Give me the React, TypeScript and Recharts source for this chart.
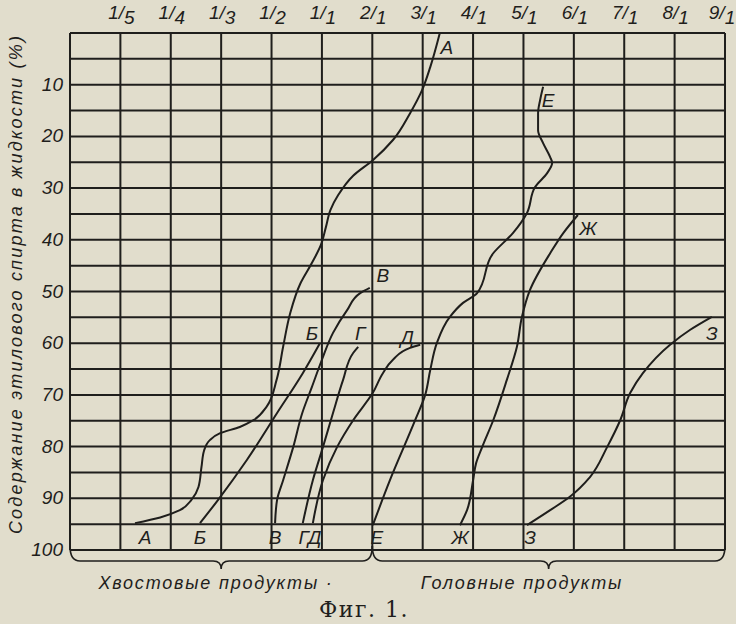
import React from "react";
import { ComposedChart, Line, Scatter, XAxis, YAxis, CartesianGrid } from "recharts";

// ratio categories (top axis); index 0 is the left border
const ratioLabels = ["", "1/5", "1/4", "1/3", "1/2", "1/1", "2/1", "3/1", "4/1", "5/1", "6/1", "7/1", "8/1", "9/1"];
const xTicks = [0, 1, 2, 3, 4, 5, 6, 7, 8, 9, 10, 11, 12, 13];
const yTicks = [0, 5, 10, 15, 20, 25, 30, 35, 40, 45, 50, 55, 60, 65, 70, 75, 80, 85, 90, 95, 100];

// curves: [ratio-index, ethyl alcohol content %]
const curveA = [[1.29,94.8],[1.79,93.7],[2.18,92.3],[2.41,90.3],[2.55,87.8],[2.61,83.9],[2.66,80.8],[2.78,78.7],[2.98,77.4],[3.37,76.2],[3.64,74.9],[3.9,72.3],[4.1,67.1],[4.23,60.7],[4.37,54.2],[4.57,48.5],[4.8,44.5],[4.98,41.0],[5.08,37.5],[5.17,34.2],[5.32,31.4],[5.62,27.6],[6.01,24.6],[6.41,20.7],[6.75,15.5],[6.99,11.0],[7.15,6.6],[7.34,0]];
const curveB = [[2.58,94.8],[2.94,90.3],[3.51,82.6],[4.11,73.5],[4.62,65.8],[4.96,60.0]];
const curveV = [[4.07,94.8],[4.11,90.3],[4.23,86.5],[4.43,80.1],[4.61,73.5],[4.8,68.5],[5.0,63.2],[5.22,58.0],[5.5,53.6],[5.76,50.3],[5.95,49.3]];
const curveG = [[4.62,94.8],[4.82,86.5],[5.02,80.1],[5.22,73.5],[5.42,67.1],[5.62,61.9],[5.72,60.7]];
const curveD = [[4.82,94.8],[5.02,86.5],[5.3,80.1],[5.62,74.9],[6.01,69.6],[6.21,65.8],[6.41,63.2],[6.75,60.9],[6.95,60.3]];
const curveE = [[6.01,95.2],[6.35,86.5],[6.85,74.9],[7.05,70.0],[7.15,65.2],[7.28,60.0],[7.54,54.9],[7.8,52.2],[8.08,50.3],[8.4,42.6],[8.79,38.7],[9.07,34.8],[9.23,29.8],[9.47,27.1],[9.57,25.1],[9.53,24.0],[9.39,21.3],[9.29,18.8],[9.29,15.5],[9.33,13.0],[9.39,10.4]];
const curveZh = [[7.74,95.2],[7.88,92.3],[8.0,86.5],[8.06,83.2],[8.18,80.1],[8.4,74.9],[8.67,67.1],[8.87,60.7],[8.97,54.9],[9.13,49.7],[9.53,42.6],[9.79,38.7],[10.08,35.2]];
const curveZ = [[9.07,95.2],[9.53,92.3],[9.92,89.7],[10.32,85.9],[10.66,80.1],[10.92,74.9],[11.12,69.6],[11.37,65.8],[11.91,60.3],[12.31,57.4],[12.74,54.9]];

// curve letters
const letterText = ["А", "Е", "Ж", "В", "Б", "Г", "Д", "З", "А", "Б", "В", "ГД", "Е", "Ж", "З"];
const letterX = [7.48, 9.49, 10.28, 6.21, 4.8, 5.76, 6.69, 12.74, 1.49, 2.58, 4.07, 4.76, 6.09, 7.74, 9.13];
const letterY = [2.7, 13.0, 37.7, 46.8, 58.0, 58.0, 58.8, 58.0, 97.5, 97.5, 97.5, 97.5, 97.5, 97.5, 97.5];

const yTitle = "Содержание  этилового  спирта  в  жидкости (%)";
const tailLabel = "Хвостовые  продукты ·";
const headLabel = "Головные  продукты";
const figLabel = "Фиг. 1.";

// ordered top-to-bottom so the curve is monotone in y
const toPts = (arr: number[][]) => arr.map(([x, y]) => ({ x, y })).sort((a, b) => a.y - b.y);
const curves = [curveA, curveB, curveV, curveG, curveD, curveE, curveZh, curveZ];
const letters = letterText.map((t, i) => ({ x: letterX[i], y: letterY[i], t }));

const INK = "#1f1e1c";
const PAPER = "#e1ddcc";
const SANS = "'Liberation Sans', Arial, sans-serif";

const W = 736, H = 624;
const PL = 70, PT = 33, PW = 655, PH = 517;

const TopTick = (props: any) => {
  const { x, payload } = props;
  const lab = ratioLabels[payload.value];
  if (!lab) return null;
  const [n, d] = lab.split("/");
  const last = payload.value === 13;
  return (
    <text x={last ? x - 3 : x + 1} y={22} textAnchor="middle" fill={INK} fontFamily={SANS} fontStyle="italic" fontSize={19}>
      <tspan dy={-3}>{n}</tspan>
      <tspan dy={0}>/</tspan>
      <tspan dy={5}>{d}</tspan>
    </text>
  );
};

const LeftTick = (props: any) => {
  const { y, payload } = props;
  const v = payload.value;
  if (v === 0 || v % 10 !== 0) return null;
  return (
    <text x={63} y={y} dy={6} textAnchor="end" fill={INK} fontFamily={SANS} fontStyle="italic" fontSize={19}>
      {v}
    </text>
  );
};

const LetterShape = (props: any) => {
  const { cx, cy, payload } = props;
  return (
    <text x={cx} y={cy} dy={7} textAnchor="middle" fill={INK} fontFamily={SANS} fontStyle="italic" fontSize={19}>
      {payload.t}
    </text>
  );
};

const brace = (a: number, b: number) => {
  const m = (a + b) / 2;
  const yb = PT + PH + 11;
  return `M${a},${PT + PH - 4} Q${a},${yb} ${a + 10},${yb} L${m - 8},${yb} Q${m},${yb} ${m},${yb + 8} Q${m},${yb} ${m + 8},${yb} L${b - 10},${yb} Q${b},${yb} ${b},${PT + PH - 4}`;
};

export default function App() {
  const xSplit = PL + (PW * 6) / 13;
  return (
    <div style={{ position: "absolute", left: 0, top: 0, width: W, height: H, background: PAPER, overflow: "hidden" }}>
      <ComposedChart width={W} height={H} margin={{ top: 8, right: W - PL - PW, bottom: H - PT - PH, left: 0 }}>
        <CartesianGrid stroke={INK} strokeWidth={2} horizontal vertical fill="none" />
        <XAxis
          type="number"
          dataKey="x"
          orientation="top"
          domain={[0, 13]}
          ticks={xTicks}
          height={25}
          axisLine={false}
          tickLine={false}
          tick={<TopTick />}
          allowDataOverflow
          interval={0}
        />
        <YAxis
          type="number"
          dataKey="y"
          domain={[0, 100]}
          reversed
          ticks={yTicks}
          width={PL}
          axisLine={false}
          tickLine={false}
          tick={<LeftTick />}
          allowDataOverflow
          interval={0}
        />
        {curves.map((c, i) => (
          <Line
            key={i}
            data={toPts(c)}
            dataKey="y"
            type="monotoneY"
            stroke={INK}
            strokeWidth={2}
            dot={false}
            activeDot={false}
            isAnimationActive={false}
          />
        ))}
        <Scatter data={letters} dataKey="y" shape={<LetterShape />} isAnimationActive={false} />
      </ComposedChart>
      <svg width={W} height={H} style={{ position: "absolute", left: 0, top: 0, pointerEvents: "none" }}>
        <path d={brace(PL, xSplit)} fill="none" stroke={INK} strokeWidth={1.6} />
        <path d={brace(xSplit, PL + PW)} fill="none" stroke={INK} strokeWidth={1.6} />
        <text x={216} y={589} textAnchor="middle" fill={INK} fontFamily={SANS} fontStyle="italic" fontSize={18} letterSpacing={1.8}>
          {tailLabel}
        </text>
        <text x={522} y={589} textAnchor="middle" fill={INK} fontFamily={SANS} fontStyle="italic" fontSize={18} letterSpacing={1.8}>
          {headLabel}
        </text>
        <text x={364} y={617} textAnchor="middle" fill={INK} fontFamily="'DejaVu Serif', 'Liberation Serif', serif" fontSize={22} letterSpacing={1.5}>
          {figLabel}
        </text>
        <text
          x={0}
          y={0}
          transform="translate(22,284) rotate(-90)"
          textAnchor="middle"
          fill={INK}
          fontFamily={SANS}
          fontStyle="italic"
          fontSize={18}
          letterSpacing={2.2}
        >
          {yTitle}
        </text>
      </svg>
    </div>
  );
}
